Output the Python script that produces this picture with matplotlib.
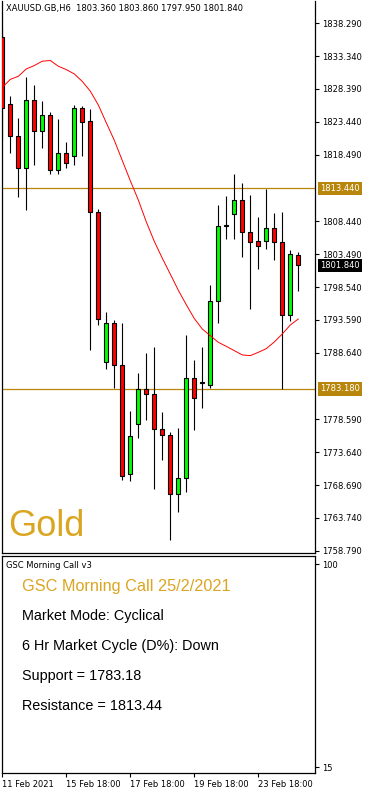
import matplotlib
matplotlib.use("Agg")
import matplotlib.pyplot as plt
from matplotlib.transforms import blended_transform_factory

# --- data (XAUUSD H6, 11 Feb - 25 Feb 2021) ---
opens = [1836.29, 1826.13, 1821.36, 1816.49, 1826.74, 1822.07, 1824.51, 1816.23, 1818.67, 1818.36,
         1825.57, 1823.59, 1809.78, 1787.24, 1793.13, 1786.79, 1770.29, 1777.95, 1783.18, 1782.47,
         1777.19, 1776.28, 1767.29, 1769.68, 1784.86, 1784.04, 1783.74, 1796.43, 1807.80, 1809.48,
         1811.71, 1806.79, 1805.42, 1805.42, 1807.40, 1805.27, 1794.25, 1803.36]
highs = [1837.66, 1827.40, 1823.95, 1830.24, 1828.92, 1826.59, 1824.86, 1823.80, 1820.34, 1825.98,
         1825.78, 1825.32, 1810.24, 1794.81, 1793.64, 1793.13, 1779.88, 1785.52, 1788.66, 1789.43,
         1779.63, 1776.63, 1777.24, 1791.30, 1787.60, 1789.43, 1798.87, 1810.90, 1812.22, 1815.52,
         1814.20, 1812.37, 1809.07, 1813.34, 1809.68, 1809.84, 1804.15, 1803.86]
lows = [1820.65, 1818.77, 1812.17, 1810.09, 1816.94, 1819.48, 1815.57, 1815.57, 1816.49, 1816.94,
        1818.36, 1789.02, 1792.78, 1786.18, 1783.28, 1769.52, 1769.32, 1775.77, 1778.51, 1768.15,
        1772.47, 1760.39, 1764.65, 1767.59, 1776.99, 1780.29, 1783.28, 1793.08, 1805.82, 1805.82,
        1803.13, 1795.16, 1801.26, 1804.30, 1802.68, 1783.18, 1793.39, 1797.95]
closes = [1825.57, 1821.36, 1816.49, 1826.74, 1822.07, 1824.51, 1816.23, 1818.67, 1817.25, 1825.57,
          1823.44, 1809.78, 1793.69, 1793.13, 1786.79, 1770.13, 1776.12, 1783.18, 1782.47, 1777.19,
          1776.28, 1767.29, 1769.68, 1784.86, 1781.86, 1784.04, 1796.43, 1807.70, 1807.80, 1811.71,
          1806.79, 1805.27, 1804.66, 1807.40, 1805.27, 1794.25, 1803.54, 1801.84]
ma = [1828.62, 1829.84, 1830.30, 1831.41, 1831.92, 1832.58, 1832.68, 1831.82, 1831.31, 1830.65,
      1829.53, 1828.06, 1825.98, 1823.29, 1820.65, 1817.60, 1814.56, 1811.66, 1808.36, 1805.42,
      1802.88, 1800.49, 1798.06, 1795.87, 1793.79, 1792.21, 1791.21, 1790.21, 1789.60, 1788.95,
      1788.30, 1788.20, 1788.70, 1789.25, 1790.26, 1791.46, 1792.82, 1793.72]

support = 1783.18
resistance = 1813.44
price_ticks = [1838.29, 1833.34, 1828.39, 1823.44, 1818.49, 1808.44, 1803.49, 1798.54,
               1793.59, 1788.64, 1778.59, 1773.64, 1768.69, 1763.74, 1758.79]
date_ticks = [0, 8, 16, 24, 32]
date_labels = ["11 Feb 2021", "15 Feb 18:00", "17 Feb 18:00", "19 Feb 18:00", "23 Feb 18:00"]
info_lines = ["Market Mode: Cyclical", "6 Hr Market Cycle (D%): Down",
              "Support = 1783.18", "Resistance = 1813.44"]

W, H = 366, 788
GOLD = "#DAA520"
LINE_GOLD = "#B8860B"


def rect(l, t, r, b):
    return [l / W, 1 - b / H, (r - l) / W, (b - t) / H]


fig = plt.figure(figsize=(W / 100, H / 100), dpi=100)

# --- price panel ---
ax = fig.add_axes(rect(2, 1, 315, 553))
n = len(opens)
xs = list(range(n))
bottoms = [min(o, c) for o, c in zip(opens, closes)]
heights = [max(abs(c - o), 0.15) for o, c in zip(opens, closes)]
colors = ["#00FF00" if c > o else "#FF0000" for o, c in zip(opens, closes)]

ax.vlines(xs, lows, highs, color="black", lw=0.8, zorder=2)
ax.bar(xs, heights, bottom=bottoms, width=0.5, color=colors,
       edgecolor="black", linewidth=0.8, zorder=3)
ax.plot(xs, ma, color="#FF0000", lw=0.7, zorder=4)
ax.axhline(resistance, color=LINE_GOLD, lw=0.9, zorder=1)
ax.axhline(support, color=LINE_GOLD, lw=0.9, zorder=1)

ax.set_xlim(-0.04, 39.09)
ax.set_ylim(1758.45, 1841.65)
ax.set_xticks([])
ax.yaxis.tick_right()
ax.set_yticks(price_ticks)
ax.set_yticklabels([f"{p:.3f}" for p in price_ticks])
ax.tick_params(axis="y", direction="out", length=3, width=0.8, labelsize=6, pad=2)
ax.spines["top"].set_visible(False)
for s in ["left", "right", "bottom"]:
    ax.spines[s].set_linewidth(0.9)

trans = blended_transform_factory(ax.transAxes, ax.transData)
for val, bg in [(resistance, LINE_GOLD), (support, LINE_GOLD), (closes[-1], "black")]:
    ax.text(1.0155, val, f"{val:.3f}", transform=trans, fontsize=6, color="white",
            va="center", ha="left",
            bbox=dict(boxstyle="square,pad=0.25", facecolor=bg, edgecolor="none"))

fig.text(6 / W, 1 - 8 / H,
         f"XAUUSD.GB,H6  {opens[-1]:.3f} {highs[-1]:.3f} {lows[-1]:.3f} {closes[-1]:.3f}",
         fontsize=6, va="center", ha="left")
fig.text(8 / W, 1 - 527 / H, "Gold", fontsize=26, color=GOLD, va="center", ha="left",
         family="Liberation Sans")

# --- indicator panel ---
ax2 = fig.add_axes(rect(2, 556, 315, 773))
ax2.set_xlim(-0.04, 39.09)
ax2.set_ylim(12.5, 103.35)
ax2.yaxis.tick_right()
ax2.set_yticks([100, 15])
ax2.set_yticklabels(["100", "15"])
ax2.set_xticks(date_ticks)
ax2.set_xticklabels(date_labels)
for lbl in ax2.get_xticklabels():
    lbl.set_ha("left")
ax2.tick_params(direction="out", length=3, width=0.8, labelsize=6, pad=2)
for s in ax2.spines.values():
    s.set_linewidth(0.9)

fig.text(6 / W, 1 - 566 / H, "GSC Morning Call v3", fontsize=6, va="center", ha="left")
fig.text(22 / W, 1 - 586 / H, "GSC Morning Call 25/2/2021", fontsize=11.7, color=GOLD,
         va="center", ha="left", family="Liberation Sans")
for i, line in enumerate(info_lines):
    fig.text(22 / W, 1 - (616 + 30 * i) / H, line, fontsize=10.4, color="black",
             va="center", ha="left", family="Liberation Sans")

fig.savefig("out.png", dpi=100, facecolor="white")
